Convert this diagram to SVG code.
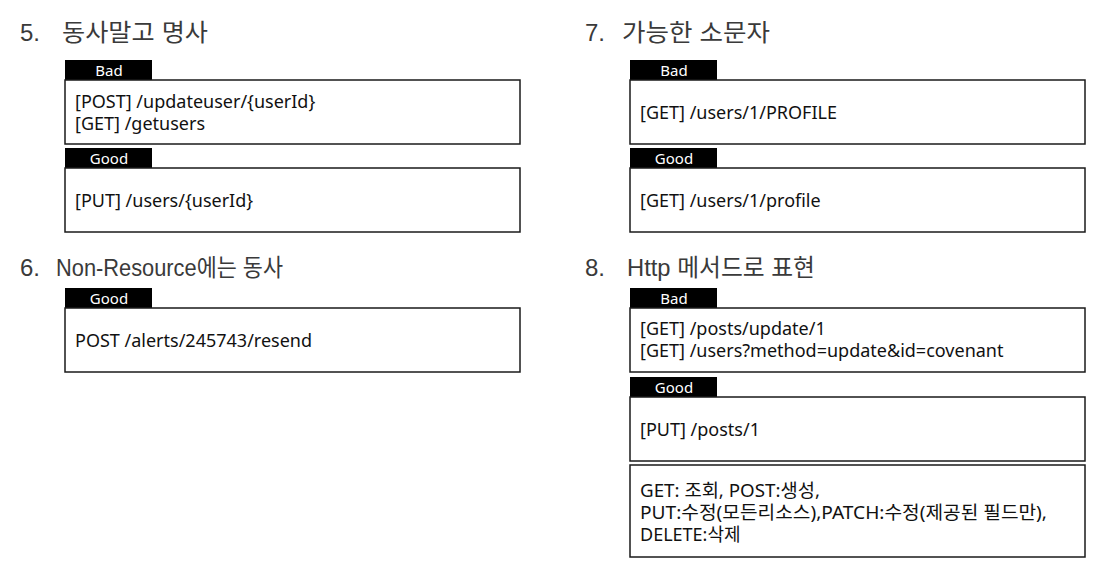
<svg xmlns="http://www.w3.org/2000/svg" width="1107" height="567" viewBox="0 0 1107 567">
<style>
.h{font-family:"Liberation Sans","Noto Sans CJK KR",sans-serif;font-size:24px;fill:#3a3a3a}
.tab{fill:#000}
.tt{font-family:"Noto Sans","Noto Sans CJK KR",sans-serif;font-size:15px;fill:#fff;text-anchor:middle}
.box{fill:#fff;stroke:#1a1a1a;stroke-width:1.5}
.t{font-family:"Noto Sans","Noto Sans CJK KR",sans-serif;font-size:18px;fill:#111}
</style>
<rect width="1107" height="567" fill="#fff"/>
<g id="sec5">
<text class="h" x="20" y="41">5.</text><text class="h" x="62" y="41" textLength="146" lengthAdjust="spacingAndGlyphs">동사말고 명사</text>
<rect class="tab" x="65" y="60" width="87" height="20"/><text class="tt" x="109" y="75.5">Bad</text>
<rect class="box" x="65" y="80" width="455" height="64"/>
<text class="t" x="75" y="108">[POST] /updateuser/{userId}</text>
<text class="t" x="75" y="130">[GET] /getusers</text>
<rect class="tab" x="65" y="148" width="87" height="20"/><text class="tt" x="109" y="163.5">Good</text>
<rect class="box" x="65" y="168" width="455" height="64"/>
<text class="t" x="75" y="207">[PUT] /users/{userId}</text>
</g>
<g id="sec6">
<text class="h" x="20" y="276">6.</text><text class="h" x="56" y="276" textLength="227" lengthAdjust="spacingAndGlyphs">Non-Resource에는 동사</text>
<rect class="tab" x="65" y="288" width="87" height="20"/><text class="tt" x="109" y="303.5">Good</text>
<rect class="box" x="65" y="308" width="455" height="64"/>
<text class="t" x="75" y="347">POST /alerts/245743/resend</text>
</g>
<g id="sec7">
<text class="h" x="585" y="41">7.</text><text class="h" x="622" y="41" textLength="148" lengthAdjust="spacingAndGlyphs">가능한 소문자</text>
<rect class="tab" x="630" y="60" width="87" height="20"/><text class="tt" x="674" y="75.5">Bad</text>
<rect class="box" x="630" y="80" width="455" height="64"/>
<text class="t" x="640" y="119">[GET] /users/1/PROFILE</text>
<rect class="tab" x="630" y="148" width="87" height="20"/><text class="tt" x="674" y="163.5">Good</text>
<rect class="box" x="630" y="168" width="455" height="64"/>
<text class="t" x="640" y="207">[GET] /users/1/profile</text>
</g>
<g id="sec8">
<text class="h" x="585" y="276">8.</text><text class="h" x="627" y="276" textLength="188" lengthAdjust="spacingAndGlyphs">Http 메서드로 표현</text>
<rect class="tab" x="630" y="288" width="87" height="20"/><text class="tt" x="674" y="303.5">Bad</text>
<rect class="box" x="630" y="308" width="455" height="64"/>
<text class="t" x="640" y="335">[GET] /posts/update/1</text>
<text class="t" x="640" y="357">[GET] /users?method=update&amp;id=covenant</text>
<rect class="tab" x="630" y="377" width="87" height="20"/><text class="tt" x="674" y="392.5">Good</text>
<rect class="box" x="630" y="397" width="455" height="64"/>
<text class="t" x="640" y="436">[PUT] /posts/1</text>
<rect class="box" x="630" y="465" width="455" height="92"/>
<text class="t" x="640" y="497" textLength="180" lengthAdjust="spacingAndGlyphs">GET: 조회, POST:생성,</text>
<text class="t" x="640" y="519" textLength="407" lengthAdjust="spacingAndGlyphs">PUT:수정(모든리소스),PATCH:수정(제공된 필드만),</text>
<text class="t" x="640" y="541">DELETE:삭제</text>
</g>
</svg>
